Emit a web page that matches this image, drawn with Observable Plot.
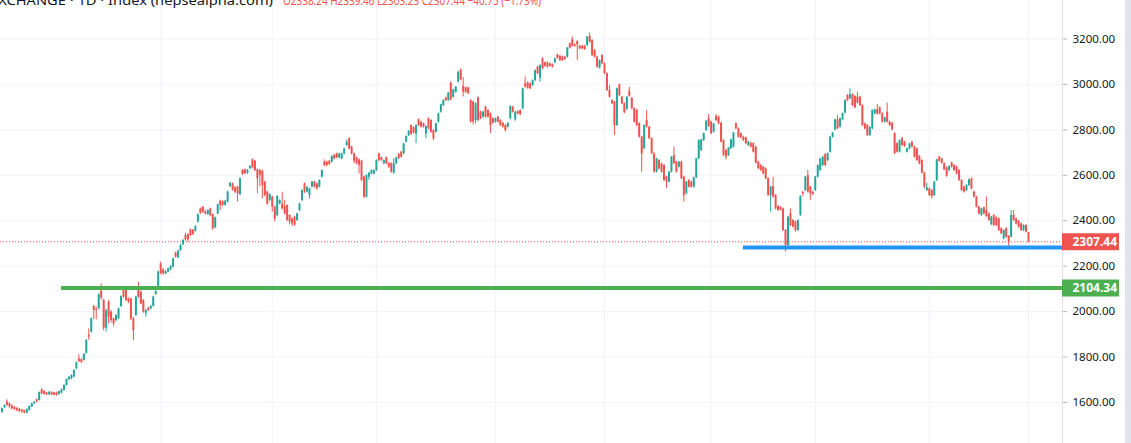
<!DOCTYPE html>
<html><head><meta charset="utf-8">
<script src="https://cdn.jsdelivr.net/npm/d3@7"></script>
<script src="https://cdn.jsdelivr.net/npm/@observablehq/plot@0.6"></script>
<style>
html,body{margin:0;padding:0;background:#fff;overflow:hidden;}
#chart{position:relative;width:1131px;height:443px;}
#chart::after{content:"";position:absolute;left:1125px;top:0;width:6px;height:443px;background:#e0e3eb;}
</style></head><body><div id="chart"></div>
<script>
const opens = [
1556,1577,1602,1594,1585,1578,1574,1570,1566,1563,
1553,1565,1580,1594,1612,1609,1656,1648,1642,1634,
1644,1642,1642,1635,1641,1653,1675,1700,1704,1712,
1748,1792,1788,1785,1817,1895,1910,2023,2009,2012,
2090,2049,1927,2042,1998,1968,1961,1968,2023,2100,
2096,2056,2056,1968,1983,2100,2086,2049,1993,2015,
2012,2023,2075,2100,2210,2184,2166,2174,2184,2196,
2257,2237,2269,2295,2335,2339,2360,2358,2354,2394,
2452,2460,2438,2427,2452,2427,2369,2430,2486,2484,
2468,2482,2550,2562,2545,2548,2515,2621,2624,2610,
2629,2668,2662,2624,2621,2618,2570,2526,2489,2504,
2460,2423,2474,2474,2463,2467,2423,2408,2416,2401,
2445,2489,2562,2526,2511,2548,2570,2562,2548,2592,
2658,2658,2662,2658,2688,2694,2677,2672,2694,2731,
2761,2724,2694,2677,2668,2662,2592,2504,2592,2606,
2606,2621,2694,2677,2651,2677,2653,2651,2610,2651,
2692,2702,2695,2746,2775,2819,2809,2782,2844,2834,
2827,2782,2849,2841,2797,2790,2834,2878,2907,2940,
2929,3006,2944,2966,3010,3064,2991,2985,2985,2929,
2922,2841,2941,2878,2856,2900,2885,2871,2849,2834,
2856,2841,2829,2819,2812,2849,2900,2844,2880,2885,
2893,3003,3007,3003,2995,3017,3076,3028,3113,3095,
3095,3091,3086,3095,3130,3124,3120,3120,3120,3179,
3197,3174,3189,3168,3168,3168,3171,3212,3193,3149,
3120,3072,3127,3091,3047,2973,2929,2922,2819,2998,
2944,2915,2890,2969,2939,2893,2886,2827,2768,2717,
2841,2812,2761,2695,2614,2665,2650,2643,2592,2570,
2614,2687,2658,2636,2658,2592,2519,2577,2570,2548,
2589,2672,2709,2753,2797,2849,2834,2790,2859,2856,
2829,2753,2709,2687,2717,2724,2827,2805,2783,2768,
2765,2731,2741,2739,2724,2658,2643,2636,2629,2585,
2511,2551,2511,2463,2458,2452,2357,2291,2430,2401,
2394,2357,2423,2525,2533,2599,2548,2525,2533,2592,
2621,2643,2691,2665,2702,2768,2800,2844,2812,2844,
2874,2951,2937,2955,2947,2944,2944,2907,2826,2819,
2775,2805,2870,2888,2897,2871,2834,2878,2834,2829,
2783,2739,2702,2761,2746,2702,2716,2746,2724,2716,
2683,2665,2610,2533,2540,2533,2511,2577,2680,2672,
2651,2633,2621,2654,2643,2636,2621,2577,2548,2533,
2555,2584,2526,2504,2460,2423,2457,2445,2430,2383,
2423,2413,2408,2365,2320,2365,2331,2328,2423,2408,
2398,2386,2357,2379,2348];
const highs = [
1576,1590,1612,1598,1590,1582,1578,1574,1570,1566,
1572,1585,1597,1604,1615,1646,1660,1652,1645,1648,
1647,1645,1646,1651,1659,1678,1704,1714,1722,1745,
1778,1810,1792,1815,1877,1924,1972,2027,2020,2078,
2122,2055,2010,2050,2005,1972,1986,2015,2070,2108,
2100,2060,2060,1975,2068,2130,2090,2053,2010,2018,
2026,2068,2092,2178,2218,2188,2180,2192,2202,2236,
2262,2270,2295,2317,2345,2343,2363,2362,2378,2430,
2456,2463,2446,2448,2456,2430,2416,2473,2490,2488,
2490,2530,2568,2566,2550,2552,2588,2625,2628,2626,
2642,2672,2666,2628,2625,2622,2574,2530,2518,2508,
2464,2510,2492,2526,2490,2470,2426,2412,2420,2433,
2477,2536,2566,2550,2543,2573,2574,2566,2580,2624,
2668,2662,2666,2686,2692,2698,2697,2697,2719,2756,
2765,2728,2698,2681,2672,2666,2596,2602,2612,2624,
2624,2668,2698,2680,2668,2680,2657,2655,2673,2680,
2696,2706,2741,2774,2797,2823,2813,2822,2848,2838,
2830,2818,2853,2845,2800,2830,2874,2913,2932,2944,
2965,3010,2979,2991,3057,3068,3030,2989,2989,2933,
2926,2918,2945,2882,2881,2904,2889,2875,2853,2852,
2860,2845,2833,2823,2832,2906,2904,2881,2884,2889,
2984,3032,3011,3007,3020,3064,3080,3086,3117,3099,
3099,3094,3090,3116,3134,3128,3124,3124,3163,3183,
3210,3178,3193,3172,3172,3172,3211,3226,3197,3153,
3124,3108,3131,3095,3051,2995,2933,2926,2984,3002,
2948,2919,2947,2987,2943,2897,2890,2831,2772,2822,
2885,2816,2765,2699,2675,2669,2654,2647,2596,2617,
2683,2724,2662,2661,2662,2596,2573,2581,2574,2592,
2675,2756,2759,2786,2841,2868,2838,2828,2868,2860,
2833,2757,2713,2723,2759,2789,2831,2809,2787,2772,
2769,2750,2745,2743,2728,2662,2647,2640,2633,2589,
2551,2592,2515,2467,2462,2456,2361,2419,2452,2405,
2398,2404,2510,2529,2595,2621,2552,2529,2595,2646,
2675,2683,2695,2698,2771,2789,2847,2863,2852,2874,
2932,2955,2981,2959,2951,2966,2948,2911,2830,2823,
2814,2888,2891,2912,2901,2875,2856,2918,2838,2833,
2787,2743,2756,2768,2750,2720,2741,2750,2728,2720,
2687,2669,2614,2565,2544,2537,2573,2671,2683,2676,
2655,2637,2642,2658,2647,2640,2625,2581,2552,2558,
2584,2588,2530,2508,2464,2455,2461,2504,2434,2419,
2427,2417,2412,2369,2360,2369,2335,2445,2445,2412,
2402,2390,2382,2383,2349];
const lows = [
1552,1574,1583,1575,1568,1565,1560,1556,1553,1550,
1550,1562,1578,1591,1598,1606,1635,1632,1630,1631,
1631,1629,1628,1632,1638,1650,1672,1697,1700,1708,
1745,1776,1772,1782,1813,1873,1905,1964,1964,2008,
2050,1915,1910,1946,1950,1935,1955,1965,2018,2058,
2045,2035,1960,1873,1978,2058,2030,1993,1976,2000,
2008,2020,2072,2095,2162,2160,2162,2170,2180,2192,
2236,2233,2265,2290,2310,2305,2330,2335,2350,2390,
2428,2432,2425,2424,2418,2358,2365,2426,2445,2462,
2464,2478,2546,2530,2520,2482,2510,2600,2602,2604,
2625,2628,2616,2519,2548,2496,2505,2468,2484,2438,
2394,2418,2470,2448,2426,2396,2383,2375,2376,2398,
2441,2485,2520,2522,2496,2545,2544,2536,2545,2588,
2638,2638,2644,2654,2668,2673,2673,2668,2690,2727,
2712,2690,2650,2647,2606,2572,2498,2500,2577,2602,
2602,2617,2660,2660,2646,2646,2630,2608,2604,2647,
2669,2676,2691,2742,2771,2776,2782,2739,2815,2808,
2808,2760,2800,2785,2752,2786,2830,2874,2903,2925,
2925,2928,2940,2962,3006,3016,2945,2960,2955,2830,
2822,2826,2836,2845,2852,2852,2852,2783,2825,2830,
2830,2815,2808,2790,2808,2844,2874,2838,2866,2862,
2889,2984,2979,2977,2991,3013,3043,3010,3065,3076,
3072,3076,3072,3091,3111,3101,3101,3106,3116,3156,
3164,3164,3105,3153,3153,3150,3167,3182,3123,3116,
3072,3068,3087,3043,2969,2940,2911,2775,2815,2947,
2911,2871,2886,2944,2889,2830,2815,2764,2614,2713,
2808,2757,2691,2610,2610,2624,2610,2573,2541,2566,
2610,2647,2610,2632,2581,2482,2515,2544,2544,2544,
2585,2668,2705,2749,2793,2811,2779,2786,2837,2823,
2742,2683,2668,2683,2713,2720,2801,2764,2761,2749,
2735,2727,2720,2698,2650,2625,2617,2602,2581,2507,
2438,2500,2448,2441,2443,2353,2262,2287,2375,2368,
2350,2353,2419,2505,2529,2522,2489,2511,2529,2588,
2617,2639,2639,2661,2698,2764,2796,2801,2808,2840,
2870,2925,2933,2903,2893,2914,2903,2815,2800,2771,
2771,2801,2866,2866,2866,2830,2830,2830,2815,2796,
2691,2698,2698,2727,2723,2698,2712,2720,2676,2661,
2646,2606,2540,2529,2507,2496,2507,2573,2658,2649,
2620,2591,2617,2632,2617,2602,2573,2529,2522,2529,
2551,2536,2500,2456,2426,2419,2426,2415,2397,2379,
2375,2375,2353,2339,2316,2324,2284,2324,2397,2382,
2368,2353,2353,2346,2303];
const closes = [
1572,1587,1587,1580,1572,1569,1565,1560,1558,1553,
1569,1582,1594,1601,1602,1643,1638,1635,1634,1645,
1634,1632,1631,1648,1656,1675,1701,1711,1719,1741,
1775,1780,1776,1811,1873,1888,1968,2005,2005,2074,
2060,1927,2005,1976,1961,1946,1983,2012,2066,2064,
2049,2042,1968,1917,2064,2064,2034,1998,2005,2005,
2023,2064,2088,2174,2166,2166,2176,2188,2198,2232,
2240,2266,2291,2313,2316,2316,2335,2340,2375,2427,
2433,2438,2430,2445,2423,2364,2413,2470,2467,2468,
2486,2526,2565,2536,2526,2518,2585,2604,2608,2622,
2639,2633,2621,2585,2600,2555,2511,2474,2515,2460,
2408,2507,2489,2452,2430,2401,2394,2386,2380,2430,
2474,2533,2526,2547,2540,2570,2548,2540,2577,2621,
2643,2643,2648,2683,2672,2677,2694,2694,2716,2746,
2716,2694,2662,2651,2643,2577,2504,2599,2609,2621,
2621,2665,2665,2665,2665,2651,2636,2614,2651,2677,
2673,2680,2738,2771,2794,2780,2786,2819,2819,2812,
2812,2815,2805,2790,2761,2827,2871,2910,2929,2929,
2962,2932,2976,2988,3054,3020,2966,2966,2959,2834,
2834,2915,2841,2849,2878,2856,2856,2819,2829,2849,
2834,2819,2812,2797,2829,2903,2878,2878,2870,2866,
2981,2988,2983,2981,3017,3061,3047,3083,3069,3080,
3076,3080,3076,3113,3115,3105,3105,3110,3160,3160,
3168,3168,3174,3157,3157,3154,3208,3186,3127,3120,
3076,3105,3091,3047,2973,2944,2915,2819,2981,2951,
2915,2875,2944,2948,2893,2834,2819,2768,2694,2819,
2812,2761,2695,2614,2672,2628,2614,2577,2570,2614,
2680,2651,2614,2658,2585,2511,2570,2548,2548,2589,
2672,2753,2756,2783,2838,2815,2783,2825,2841,2827,
2746,2687,2680,2720,2756,2786,2805,2768,2765,2753,
2739,2746,2724,2702,2654,2629,2621,2606,2585,2511,
2548,2504,2452,2445,2447,2357,2291,2416,2379,2372,
2357,2401,2507,2518,2592,2526,2518,2515,2592,2643,
2672,2680,2643,2695,2768,2786,2844,2805,2849,2871,
2929,2929,2955,2907,2897,2918,2907,2819,2804,2775,
2810,2885,2888,2870,2870,2834,2853,2834,2819,2800,
2695,2702,2753,2731,2727,2716,2738,2724,2680,2665,
2650,2610,2548,2545,2511,2507,2570,2668,2662,2653,
2624,2595,2639,2636,2621,2606,2577,2533,2526,2555,
2580,2540,2504,2460,2430,2452,2430,2419,2401,2416,
2379,2379,2357,2343,2357,2328,2306,2423,2401,2386,
2372,2357,2379,2350,2307.44];

const yTicks = [1600, 1800, 2000, 2200, 2400, 2600, 2800, 3000, 3200];
const timeGridIdx = [64, 109, 151, 199, 243, 286, 328, 374, 414];
const supportLevel = 2104.34, supportStartIdx = 24;
const floorLevel = 2282, floorStartIdx = 299;
const lastPrice = 2307.44;
const titleText = "EXCHANGE · 1D · Index (hepsealpha.com)";
const ohlcText = "O2338.24 H2339.46 L2303.23 C2307.44 −40.75 (−1.73%)";

const candles = opens.map((o, i) => ({i, open: o, high: highs[i], low: lows[i], close: closes[i]}));
const N = candles.length;
const W = 1131, H = 443, axisX = 1062;
const step = (1028 - 1.5) / (N - 1);
const xDomain = [-1.5 / step, (axisX - 1.5) / step];
const tagEnd = xDomain[1] + 57 / step;
const yDomain = [1419.5, 3369.5];
const up = "#26a69a", down = "#ef5350", lvlGreen = "#4caf50", lvlBlue = "#2196f3";
const col = d => d.close >= d.open ? up : down;

const chart = Plot.plot({
  width: W, height: H,
  marginLeft: 0, marginRight: W - axisX, marginTop: 0, marginBottom: 0,
  x: {domain: xDomain, axis: null},
  y: {domain: yDomain, axis: null},
  style: {background: "#fff", fontFamily: "'Noto Sans', sans-serif"},
  marks: [
    Plot.ruleY(yTicks, {stroke: "#f0f3fa", strokeWidth: 1}),
    Plot.ruleX(timeGridIdx, {stroke: "#f0f3fa", strokeWidth: 1}),
    Plot.ruleX([xDomain[1]], {stroke: "#e0e3eb"}),
    Plot.ruleX(candles, {x: "i", y1: "low", y2: "high", stroke: col, strokeWidth: 1}),
    Plot.ruleX(candles, {x: "i", y1: "open", y2: "close", stroke: col, strokeWidth: 2}),
    Plot.ruleY([lastPrice], {stroke: down, strokeDasharray: "1,2", strokeWidth: 1}),
    Plot.ruleY([supportLevel], {x1: supportStartIdx, x2: xDomain[1], stroke: lvlGreen, strokeWidth: 4}),
    Plot.ruleY([floorLevel], {x1: floorStartIdx, x2: xDomain[1], stroke: lvlBlue, strokeWidth: 4}),
    Plot.axisY(yTicks, {anchor: "right", tickSize: 4, tickPadding: 6, tickFormat: d => d.toFixed(2),
      stroke: "#b2b5be", fill: "#131722", fontSize: 11.5, label: null}),
    Plot.ruleY([lastPrice], {x1: xDomain[1], x2: tagEnd, stroke: down, strokeWidth: 17}),
    Plot.ruleY([supportLevel], {x1: xDomain[1], x2: tagEnd, stroke: lvlGreen, strokeWidth: 17}),
    Plot.text([lastPrice, supportLevel], {x: xDomain[1], y: d => d, dx: 10, text: d => d.toFixed(2),
      textAnchor: "start", fill: "#fff", fontWeight: "bold", fontSize: 12})
  ]
});

const svg = d3.select(chart);
svg.append("text").attr("x", -10).attr("y", 5).attr("font-size", 13).attr("fill", "#131722")
  .attr("text-anchor", "start")
  .attr("font-family", "'Noto Sans', sans-serif").attr("textLength", 283).attr("lengthAdjust", "spacingAndGlyphs").text(titleText);
svg.append("text").attr("x", 283).attr("y", 5).attr("font-size", 13).attr("fill", down)
  .attr("text-anchor", "start")
  .attr("font-family", "'Noto Sans', sans-serif").attr("textLength", 258).attr("lengthAdjust", "spacingAndGlyphs").text(ohlcText);

document.getElementById("chart").appendChild(chart);
</script></body></html>
